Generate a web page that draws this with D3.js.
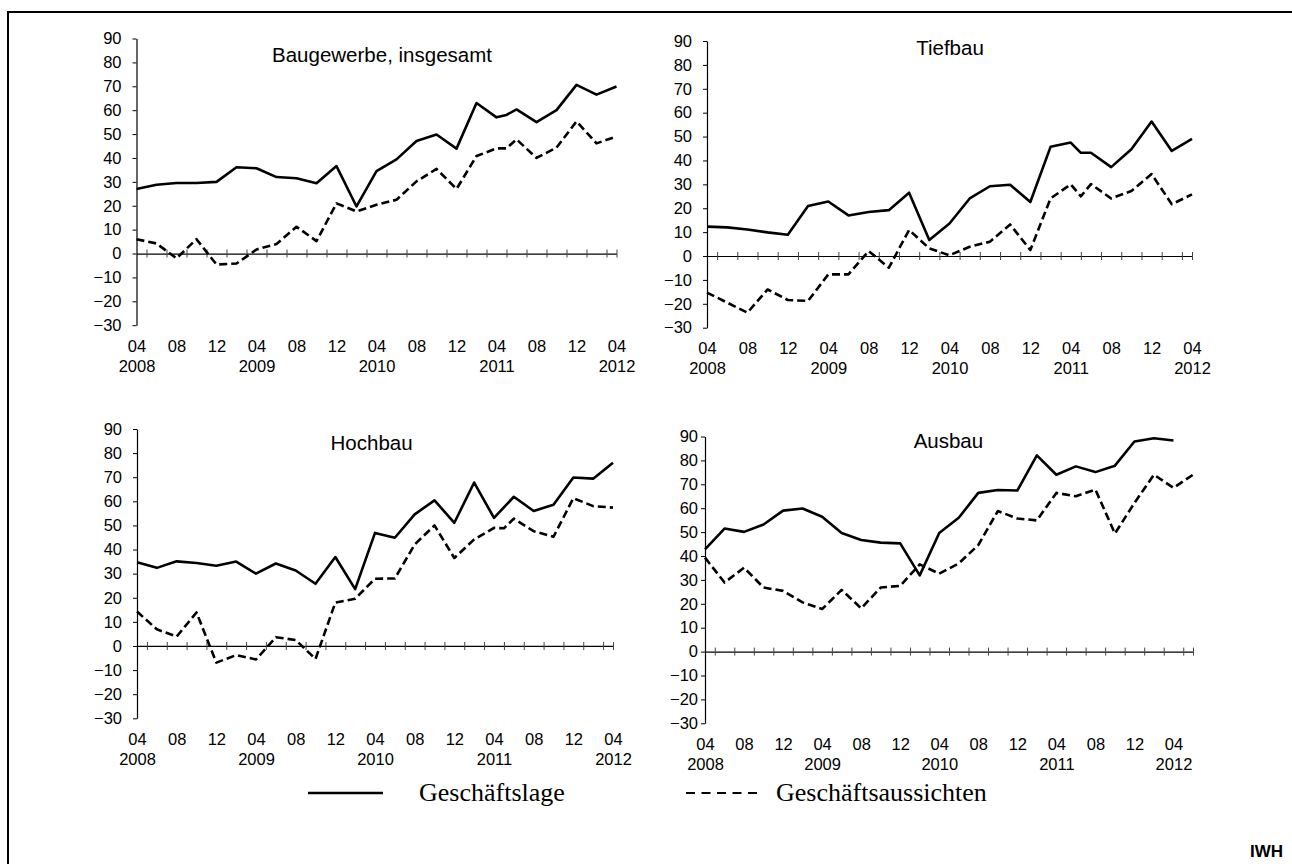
<!DOCTYPE html>
<html><head><meta charset="utf-8">
<script src="https://cdn.jsdelivr.net/npm/d3@7"></script>
<style>body{margin:0;background:#fff}svg{display:block}</style>
</head><body>
<svg id="chart" width="1292" height="864"></svg>
<script>
// ---------- DATA ----------
// months after April 2008 at which survey values are plotted (panels with a date axis)
const surveyMonths = [0,2,4,6,8,10,12,14,16,18,20,22,24,26,28,30,32,34,36,37,38,40,42,44,46,48];
const monthTickLabels = ["04","08","12","04","08","12","04","08","12","04","08","12","04"];
const yearLabels = ["2008","2009","2010","2011","2012"];
const yTickValues = [-30,-20,-10,0,10,20,30,40,50,60,70,80,90];
const seriesNames = ["Geschäftslage","Geschäftsaussichten"];
const panelTitles = ["Baugewerbe, insgesamt","Tiefbau","Hochbau","Ausbau"];

const gesamtLage = [27.0,28.8,29.5,29.5,30.0,36.1,35.7,32.0,31.5,29.4,36.6,19.7,34.5,39.4,47.1,49.8,43.9,63.0,57.0,58.0,60.3,55.0,60.0,70.6,66.5,69.9];
const gesamtAussichten = [6.0,4.2,-2.0,6.0,-4.6,-4.2,1.7,4.0,11.2,5.2,21.0,17.6,20.4,22.5,30.2,35.4,27.0,40.8,44.0,44.0,47.8,40.0,44.3,55.3,46.1,49.0];

const tiefLage = [12.3,12.0,11.1,9.9,8.9,20.9,22.8,17.0,18.4,19.2,26.5,6.7,13.6,24.1,29.2,29.8,22.6,45.7,47.5,43.2,43.2,37.2,44.7,56.3,44.0,49.0];
const tiefAussichten = [-15.3,-19.5,-23.7,-14.0,-18.4,-18.8,-7.7,-7.7,2.1,-4.9,10.9,3.2,0.3,3.9,6.0,13.2,2.5,24.1,30.0,25.0,30.1,24.1,27.2,34.3,21.7,25.8];

const hochLage = [34.7,32.4,35.1,34.4,33.3,35.0,30.0,34.2,31.3,25.8,36.9,23.6,46.9,44.9,54.6,60.4,51.1,67.8,53.1,57.5,61.9,56.0,58.6,69.9,69.4,76.0];
const hochAussichten = [14.3,6.9,3.9,13.9,-6.9,-3.8,-5.6,3.6,2.5,-5.4,18.0,19.6,27.9,28.0,42.1,50.0,36.5,44.2,49.0,48.8,52.8,47.6,45.3,61.3,58.0,57.4];

// Ausbau is drawn on an evenly spaced category axis
const ausLage = [42.8,51.5,50.1,53.2,59.0,59.9,56.4,49.6,46.7,45.6,45.3,31.9,49.6,56.0,66.4,67.6,67.4,82.1,74.0,77.5,75.1,77.8,87.9,89.3,88.3];
const ausAussichten = [39.3,28.9,35.1,26.8,25.4,20.6,17.8,25.8,18.1,26.8,27.5,36.5,32.6,36.9,44.6,58.8,55.7,54.9,66.4,65.0,67.8,49.4,62.2,74.0,68.5,74.0];

// ---------- LAYOUT ----------
const panels = [
  {title:panelTitles[0], lage:gesamtLage, aus:gesamtAussichten, mode:"month",
   x:[136.5,616.5], y:[325.2,38.5], tx:382, ty:62, lblOff:15},
  {title:panelTitles[1], lage:tiefLage, aus:tiefAussichten, mode:"month",
   x:[707,1192], y:[327.7,41], tx:950, ty:54.5, lblOff:15},
  {title:panelTitles[2], lage:hochLage, aus:hochAussichten, mode:"month",
   x:[137,613], y:[718.3,429], tx:371.6, ty:450, lblOff:15},
  {title:panelTitles[3], lage:ausLage, aus:ausAussichten, mode:"index",
   x:[705,1193], y:[723.3,436.5], tx:948.4, ty:447.6, lblOff:7}
];

const sans = "'Liberation Sans', Arial, Helvetica, sans-serif";
const serif = "'Liberation Serif', 'Times New Roman', serif";
const svg = d3.select("#chart");

svg.append("rect").attr("x",0).attr("y",0).attr("width",1292).attr("height",864).attr("fill","#fff");
// outer frame (extends past the right/bottom edge)
svg.append("rect").attr("x",8).attr("y",12).attr("width",1320).attr("height",900)
  .attr("fill","none").attr("stroke","#000").attr("stroke-width",2);

panels.forEach(p => {
  const g = svg.append("g");
  let xScale, tickPos, labelPos, yearPos, xOf;
  if (p.mode === "month") {
    xScale = d3.scaleLinear().domain([0,48]).range(p.x);
    tickPos = d3.range(1,48,2).concat([48]);
    labelPos = monthTickLabels.map((d,i)=>i*4);
    yearPos = yearLabels.map((d,i)=>i*12);
    xOf = i => xScale(surveyMonths[i]);
  } else {
    xScale = d3.scaleLinear().domain([0,25]).range(p.x);
    tickPos = d3.range(0.5,25,1).concat([25]);
    labelPos = monthTickLabels.map((d,i)=>i*2);
    yearPos = yearLabels.map((d,i)=>i*6);
    xOf = i => xScale(i);
  }
  const y = d3.scaleLinear().domain([-30,90]).range(p.y);

  // y axis
  const ya = g.append("g").attr("transform",`translate(${p.x[0]},0)`)
    .call(d3.axisLeft(y).tickValues(yTickValues).tickSizeInner(4).tickSizeOuter(0).tickPadding(p.lblOff-4));
  ya.select(".domain").attr("stroke","#000").attr("stroke-width",1.2);
  ya.selectAll(".tick line").attr("stroke","#000");
  ya.selectAll("text").attr("font-family",sans).attr("font-size",16.5).attr("fill","#000");
  ya.attr("font-family",null).attr("font-size",null);

  // zero line with crossing ticks
  const y0 = y(0);
  const xb = g.append("g").attr("transform",`translate(0,${y0})`)
    .call(d3.axisBottom(xScale).tickValues(tickPos).tickSizeInner(4).tickSizeOuter(0).tickFormat(""));
  xb.select(".domain").attr("stroke","#000").attr("stroke-width",1.2);
  xb.selectAll(".tick line").attr("stroke","#444");
  const xt = g.append("g").attr("transform",`translate(0,${y0})`)
    .call(d3.axisTop(xScale).tickValues(tickPos).tickSizeInner(4).tickSizeOuter(0).tickFormat(""));
  xt.select(".domain").remove();
  xt.selectAll(".tick line").attr("stroke","#444");

  // month labels and year labels below the plot
  const yBottom = y(-30);
  const ml = g.append("g").attr("transform",`translate(0,${yBottom})`)
    .call(d3.axisBottom(xScale).tickValues(labelPos).tickSize(0).tickFormat((d,i)=>monthTickLabels[i]));
  ml.select(".domain").remove();
  ml.selectAll("text").attr("y",26.7).attr("dy",null).attr("font-family",sans).attr("font-size",16.5).attr("fill","#000");
  const yl = g.append("g").attr("transform",`translate(0,${yBottom})`)
    .call(d3.axisBottom(xScale).tickValues(yearPos).tickSize(0).tickFormat((d,i)=>yearLabels[i]));
  yl.select(".domain").remove();
  yl.selectAll("text").attr("y",46.7).attr("dy",null).attr("font-family",sans).attr("font-size",16.5).attr("fill","#000");

  // title
  g.append("text").attr("x",p.tx).attr("y",p.ty).attr("text-anchor","middle")
    .attr("font-family",sans).attr("font-size",20.5).attr("fill","#000").text(p.title);

  // lines
  const line = d3.line().x((d,i)=>xOf(i)).y(d=>y(d));
  g.append("path").datum(p.aus).attr("d",line).attr("fill","none").attr("stroke","#000")
    .attr("stroke-width",2.6).attr("stroke-dasharray","8,4").attr("stroke-linejoin","round");
  g.append("path").datum(p.lage).attr("d",line).attr("fill","none").attr("stroke","#000")
    .attr("stroke-width",2.6).attr("stroke-linejoin","round");
});

// legend
const lg = svg.append("g");
const legY = 793;
lg.append("line").attr("x1",308).attr("x2",383).attr("y1",legY).attr("y2",legY)
  .attr("stroke","#000").attr("stroke-width",2.6);
lg.append("text").attr("x",419).attr("y",legY+8).attr("font-family",serif).attr("font-size",26)
  .attr("fill","#000").text(seriesNames[0]);
lg.append("line").attr("x1",686).attr("x2",757).attr("y1",legY).attr("y2",legY)
  .attr("stroke","#000").attr("stroke-width",2).attr("stroke-dasharray","9,6.5");
lg.append("text").attr("x",776).attr("y",legY+8).attr("font-family",serif).attr("font-size",26)
  .attr("fill","#000").text(seriesNames[1]);

// source mark
svg.append("text").attr("x",1283).attr("y",857).attr("text-anchor","end")
  .attr("font-family",sans).attr("font-weight","bold").attr("font-size",17).attr("fill","#000").text("IWH");
</script>
</body></html>
